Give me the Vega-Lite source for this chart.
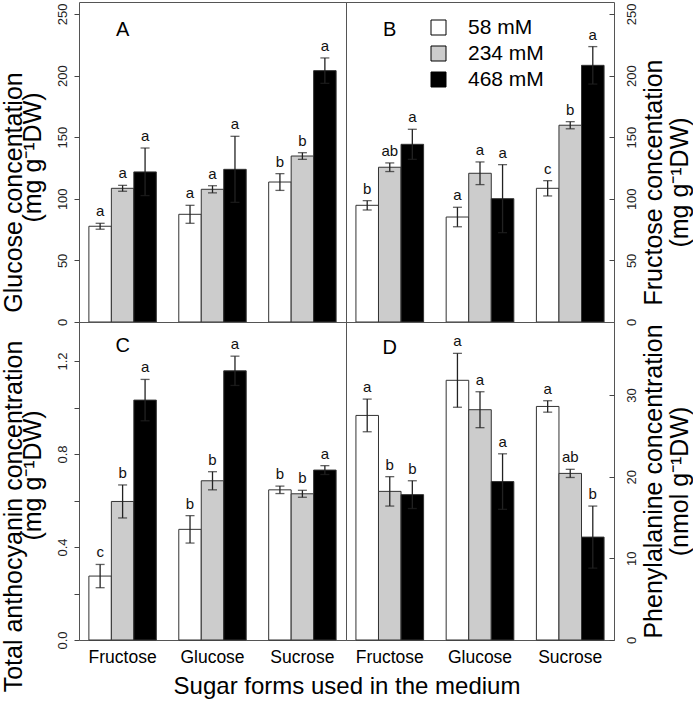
{
  "$schema": "https://vega.github.io/schema/vega-lite/v6.json",
  "padding": {"left": 0, "top": 1, "right": 0, "bottom": 0},
  "autosize": {"type": "pad"},
  "background": "white",
  "bounds": "flush",
  "columns": 2,
  "spacing": 0,
  "datasets": {
    "d": [
      {"p": "A", "sugar": "Fructose", "conc": "58 mM", "mean": 77.7, "lo": 75.3, "hi": 80.1, "lab": "a"},
      {"p": "A", "sugar": "Fructose", "conc": "234 mM", "mean": 108.5, "lo": 106.1, "hi": 110.9, "lab": "a"},
      {"p": "A", "sugar": "Fructose", "conc": "468 mM", "mean": 121.8, "lo": 102.6, "hi": 141.2, "lab": "a"},
      {"p": "A", "sugar": "Glucose", "conc": "58 mM", "mean": 87.4, "lo": 80.1, "hi": 94.7, "lab": "a"},
      {"p": "A", "sugar": "Glucose", "conc": "234 mM", "mean": 107.7, "lo": 104.8, "hi": 110.6, "lab": "a"},
      {"p": "A", "sugar": "Glucose", "conc": "468 mM", "mean": 123.9, "lo": 97.1, "hi": 150.7, "lab": "a"},
      {"p": "A", "sugar": "Sucrose", "conc": "58 mM", "mean": 113.6, "lo": 106.8, "hi": 120.4, "lab": "b"},
      {"p": "A", "sugar": "Sucrose", "conc": "234 mM", "mean": 134.7, "lo": 132.0, "hi": 137.4, "lab": "b"},
      {"p": "A", "sugar": "Sucrose", "conc": "468 mM", "mean": 204.0, "lo": 193.7, "hi": 214.3, "lab": "a"},
      {"p": "B", "sugar": "Fructose", "conc": "58 mM", "mean": 94.7, "lo": 90.9, "hi": 98.5, "lab": "b"},
      {"p": "B", "sugar": "Fructose", "conc": "234 mM", "mean": 125.6, "lo": 122.1, "hi": 129.1, "lab": "ab"},
      {"p": "B", "sugar": "Fructose", "conc": "468 mM", "mean": 144.2, "lo": 132.0, "hi": 156.4, "lab": "a"},
      {"p": "B", "sugar": "Glucose", "conc": "58 mM", "mean": 85.2, "lo": 77.3, "hi": 93.1, "lab": "a"},
      {"p": "B", "sugar": "Glucose", "conc": "234 mM", "mean": 120.7, "lo": 111.5, "hi": 129.9, "lab": "a"},
      {"p": "B", "sugar": "Glucose", "conc": "468 mM", "mean": 100.1, "lo": 72.5, "hi": 127.7, "lab": "a"},
      {"p": "B", "sugar": "Sucrose", "conc": "58 mM", "mean": 108.5, "lo": 102.3, "hi": 114.7, "lab": "c"},
      {"p": "B", "sugar": "Sucrose", "conc": "234 mM", "mean": 159.7, "lo": 156.8, "hi": 162.6, "lab": "b"},
      {"p": "B", "sugar": "Sucrose", "conc": "468 mM", "mean": 208.3, "lo": 193.1, "hi": 223.5, "lab": "a"},
      {"p": "C", "sugar": "Fructose", "conc": "58 mM", "mean": 0.275, "lo": 0.225, "hi": 0.325, "lab": "c"},
      {"p": "C", "sugar": "Fructose", "conc": "234 mM", "mean": 0.596, "lo": 0.525, "hi": 0.667, "lab": "b"},
      {"p": "C", "sugar": "Fructose", "conc": "468 mM", "mean": 1.032, "lo": 0.943, "hi": 1.121, "lab": "a"},
      {"p": "C", "sugar": "Glucose", "conc": "58 mM", "mean": 0.476, "lo": 0.417, "hi": 0.535, "lab": "b"},
      {"p": "C", "sugar": "Glucose", "conc": "234 mM", "mean": 0.685, "lo": 0.646, "hi": 0.724, "lab": "b"},
      {"p": "C", "sugar": "Glucose", "conc": "468 mM", "mean": 1.158, "lo": 1.095, "hi": 1.221, "lab": "a"},
      {"p": "C", "sugar": "Sucrose", "conc": "58 mM", "mean": 0.646, "lo": 0.630, "hi": 0.662, "lab": "b"},
      {"p": "C", "sugar": "Sucrose", "conc": "234 mM", "mean": 0.629, "lo": 0.614, "hi": 0.644, "lab": "b"},
      {"p": "C", "sugar": "Sucrose", "conc": "468 mM", "mean": 0.731, "lo": 0.712, "hi": 0.750, "lab": "a"},
      {"p": "D", "sugar": "Fructose", "conc": "58 mM", "mean": 27.5, "lo": 25.5, "hi": 29.5, "lab": "a"},
      {"p": "D", "sugar": "Fructose", "conc": "234 mM", "mean": 18.2, "lo": 16.4, "hi": 20.0, "lab": "b"},
      {"p": "D", "sugar": "Fructose", "conc": "468 mM", "mean": 17.8, "lo": 16.1, "hi": 19.5, "lab": "b"},
      {"p": "D", "sugar": "Glucose", "conc": "58 mM", "mean": 31.8, "lo": 28.5, "hi": 35.1, "lab": "a"},
      {"p": "D", "sugar": "Glucose", "conc": "234 mM", "mean": 28.2, "lo": 26.0, "hi": 30.4, "lab": "a"},
      {"p": "D", "sugar": "Glucose", "conc": "468 mM", "mean": 19.4, "lo": 16.0, "hi": 22.8, "lab": "a"},
      {"p": "D", "sugar": "Sucrose", "conc": "58 mM", "mean": 28.6, "lo": 27.9, "hi": 29.3, "lab": "a"},
      {"p": "D", "sugar": "Sucrose", "conc": "234 mM", "mean": 20.4, "lo": 19.9, "hi": 20.9, "lab": "ab"},
      {"p": "D", "sugar": "Sucrose", "conc": "468 mM", "mean": 12.6, "lo": 8.8, "hi": 16.4, "lab": "b"}
    ]
  },
  "resolve": {"scale": {"fill": "independent", "xOffset": "independent"}, "legend": {"fill": "independent"}},
  "concat": [
    {
      "width": 267, "height": 320,
      "data": {"name": "d"},
      "transform": [{"filter": "datum.p === 'A'"}],
      "resolve": {"axis": {"y": "independent"}},
      "layer": [
        {"mark": {"type": "bar", "stroke": "#333", "strokeWidth": 1},
         "encoding": {
           "x": {"field": "sugar", "type": "nominal", "scale": {"domain": ["Fructose", "Glucose", "Sucrose"], "paddingInner": 0.25, "paddingOuter": 0.11}, "axis": null},
           "xOffset": {"field": "conc", "type": "nominal", "scale": {"domain": ["58 mM", "234 mM", "468 mM"], "paddingInner": 0, "paddingOuter": 0}},
           "y": {"field": "mean", "type": "quantitative", "scale": {"domain": [0, 259.7], "nice": false, "zero": true},
                 "axis": {"orient": "left", "values": [0, 50, 100, 150, 200, 250], "title": "(mg  g⁻¹DW)", "titleY": 155, "labelAlign": "center", "labelBaseline": "bottom", "titleBaseline": "bottom", "titlePadding": 11}},
           "fill": {"field": "conc", "type": "nominal", "scale": {"domain": ["58 mM", "234 mM", "468 mM"], "range": ["#ffffff", "#cccccc", "#000000"]}, "legend": null}
         }},
        {"mark": {"type": "rule", "color": "#222", "strokeWidth": 1.3},
         "encoding": {"x": {"field": "sugar", "type": "nominal"}, "xOffset": {"field": "conc", "type": "nominal"},
           "y": {"field": "lo", "type": "quantitative", "axis": {"orient": "left", "offset": 53, "labels": false, "ticks": false, "domain": false, "title": "Glucose concentation", "titleY": 190, "titleBaseline": "bottom", "titlePadding": 0}},
           "y2": {"field": "hi"}}},
        {"mark": {"type": "tick", "color": "#222", "size": 9, "thickness": 1.3},
         "encoding": {"x": {"field": "sugar", "type": "nominal"}, "xOffset": {"field": "conc", "type": "nominal"}, "y": {"field": "hi", "type": "quantitative", "axis": null}}},
        {"mark": {"type": "tick", "color": "#222", "size": 9, "thickness": 1.3},
         "encoding": {"x": {"field": "sugar", "type": "nominal"}, "xOffset": {"field": "conc", "type": "nominal"}, "y": {"field": "lo", "type": "quantitative", "axis": null}}},
        {"mark": {"type": "text", "fontSize": 15, "dy": -7, "baseline": "alphabetic", "color": "#111"},
         "encoding": {"x": {"field": "sugar", "type": "nominal"}, "xOffset": {"field": "conc", "type": "nominal"}, "y": {"field": "hi", "type": "quantitative", "axis": null}, "text": {"field": "lab"}}},
        {"data": {"values": [{"t": "A"}]},
         "mark": {"type": "text", "fontSize": 20, "baseline": "middle", "align": "center", "color": "#000"},
         "encoding": {"x": {"datum": "Fructose"}, "y": {"datum": 237, "type": "quantitative", "axis": null}, "text": {"field": "t"}}}
      ]
    },
    {
      "width": 268, "height": 320,
      "data": {"name": "d"},
      "transform": [{"filter": "datum.p === 'B'"}],
      "resolve": {"axis": {"y": "independent"}},
      "layer": [
        {"mark": {"type": "bar", "stroke": "#333", "strokeWidth": 1},
         "encoding": {
           "x": {"field": "sugar", "type": "nominal", "scale": {"domain": ["Fructose", "Glucose", "Sucrose"], "paddingInner": 0.25, "paddingOuter": 0.11}, "axis": null},
           "xOffset": {"field": "conc", "type": "nominal", "scale": {"domain": ["58 mM", "234 mM", "468 mM"], "paddingInner": 0, "paddingOuter": 0}},
           "y": {"field": "mean", "type": "quantitative", "scale": {"domain": [0, 259.7], "nice": false, "zero": true},
                 "axis": {"orient": "right", "values": [0, 50, 100, 150, 200, 250], "title": "Fructose concentation", "titleY": 180, "labelAlign": "center", "labelBaseline": "top", "titleBaseline": "top", "tickSize": -5, "labelPadding": 16, "titlePadding": 3}},
           "fill": {"field": "conc", "type": "nominal", "scale": {"domain": ["58 mM", "234 mM", "468 mM"], "range": ["#ffffff", "#cccccc", "#000000"]},
                    "legend": {"orient": "none", "legendX": 82, "legendY": 15, "title": null, "symbolType": "square", "symbolSize": 225, "symbolStrokeColor": "#000", "symbolStrokeWidth": 1, "labelFontSize": 21, "labelOffset": 19, "rowPadding": 4, "padding": 0, "labelColor": "#000", "labelFont": "Liberation Sans"}}
         }},
        {"mark": {"type": "rule", "color": "#222", "strokeWidth": 1.3},
         "encoding": {"x": {"field": "sugar", "type": "nominal"}, "xOffset": {"field": "conc", "type": "nominal"},
           "y": {"field": "lo", "type": "quantitative", "axis": {"orient": "right", "offset": 53, "labels": false, "ticks": false, "domain": false, "title": "(mg  g⁻¹DW)", "titleY": 180, "titleBaseline": "top", "titlePadding": 0}},
           "y2": {"field": "hi"}}},
        {"mark": {"type": "tick", "color": "#222", "size": 9, "thickness": 1.3},
         "encoding": {"x": {"field": "sugar", "type": "nominal"}, "xOffset": {"field": "conc", "type": "nominal"}, "y": {"field": "hi", "type": "quantitative", "axis": null}}},
        {"mark": {"type": "tick", "color": "#222", "size": 9, "thickness": 1.3},
         "encoding": {"x": {"field": "sugar", "type": "nominal"}, "xOffset": {"field": "conc", "type": "nominal"}, "y": {"field": "lo", "type": "quantitative", "axis": null}}},
        {"mark": {"type": "text", "fontSize": 15, "dy": -7, "baseline": "alphabetic", "color": "#111"},
         "encoding": {"x": {"field": "sugar", "type": "nominal"}, "xOffset": {"field": "conc", "type": "nominal"}, "y": {"field": "hi", "type": "quantitative", "axis": null}, "text": {"field": "lab"}}},
        {"data": {"values": [{"t": "B"}]},
         "mark": {"type": "text", "fontSize": 20, "baseline": "middle", "align": "center", "color": "#000"},
         "encoding": {"x": {"datum": "Fructose"}, "y": {"datum": 237, "type": "quantitative", "axis": null}, "text": {"field": "t"}}}
      ]
    },
    {
      "width": 267, "height": 318,
      "data": {"name": "d"},
      "transform": [{"filter": "datum.p === 'C'"}],
      "resolve": {"axis": {"y": "independent"}},
      "layer": [
        {"mark": {"type": "bar", "stroke": "#333", "strokeWidth": 1},
         "encoding": {
           "x": {"field": "sugar", "type": "nominal", "scale": {"domain": ["Fructose", "Glucose", "Sucrose"], "paddingInner": 0.25, "paddingOuter": 0.11},
                 "axis": {"orient": "bottom", "ticks": false, "labelAngle": 0, "labelFontSize": 17.5, "labelPadding": 8, "labelColor": "#000",
                          "title": "Sugar forms used in the medium", "titleFontSize": 24, "titleX": 267.5, "titleY": 34, "titleAlign": "center", "titleBaseline": "top", "titleAnchor": null}},
           "xOffset": {"field": "conc", "type": "nominal", "scale": {"domain": ["58 mM", "234 mM", "468 mM"], "paddingInner": 0, "paddingOuter": 0}},
           "y": {"field": "mean", "type": "quantitative", "scale": {"domain": [0, 1.368], "nice": false, "zero": true},
                 "axis": {"orient": "left", "values": [0, 0.2, 0.4, 0.6, 0.8, 1.0, 1.2], "labelExpr": "round(datum.value*10) % 4 === 0 ? format(datum.value, '.1f') : ''", "title": "(mg  g⁻¹DW)", "titleY": 153, "labelAlign": "center", "labelBaseline": "bottom", "titleBaseline": "bottom", "titlePadding": 11}},
           "fill": {"field": "conc", "type": "nominal", "scale": {"domain": ["58 mM", "234 mM", "468 mM"], "range": ["#ffffff", "#cccccc", "#000000"]}, "legend": null}
         }},
        {"mark": {"type": "rule", "color": "#222", "strokeWidth": 1.3},
         "encoding": {"x": {"field": "sugar", "type": "nominal"}, "xOffset": {"field": "conc", "type": "nominal"},
           "y": {"field": "lo", "type": "quantitative", "axis": {"orient": "left", "offset": 53, "labels": false, "ticks": false, "domain": false, "title": "Total anthocyanin concentration", "titleY": 194, "titleBaseline": "bottom", "titlePadding": 0}},
           "y2": {"field": "hi"}}},
        {"mark": {"type": "tick", "color": "#222", "size": 9, "thickness": 1.3},
         "encoding": {"x": {"field": "sugar", "type": "nominal"}, "xOffset": {"field": "conc", "type": "nominal"}, "y": {"field": "hi", "type": "quantitative", "axis": null}}},
        {"mark": {"type": "tick", "color": "#222", "size": 9, "thickness": 1.3},
         "encoding": {"x": {"field": "sugar", "type": "nominal"}, "xOffset": {"field": "conc", "type": "nominal"}, "y": {"field": "lo", "type": "quantitative", "axis": null}}},
        {"mark": {"type": "text", "fontSize": 15, "dy": -7, "baseline": "alphabetic", "color": "#111"},
         "encoding": {"x": {"field": "sugar", "type": "nominal"}, "xOffset": {"field": "conc", "type": "nominal"}, "y": {"field": "hi", "type": "quantitative", "axis": null}, "text": {"field": "lab"}}},
        {"data": {"values": [{"t": "C"}]},
         "mark": {"type": "text", "fontSize": 20, "baseline": "middle", "align": "center", "color": "#000"},
         "encoding": {"x": {"datum": "Fructose"}, "y": {"datum": 1.265, "type": "quantitative", "axis": null}, "text": {"field": "t"}}}
      ]
    },
    {
      "width": 268, "height": 318,
      "data": {"name": "d"},
      "transform": [{"filter": "datum.p === 'D'"}],
      "resolve": {"axis": {"y": "independent"}},
      "layer": [
        {"mark": {"type": "bar", "stroke": "#333", "strokeWidth": 1},
         "encoding": {
           "x": {"field": "sugar", "type": "nominal", "scale": {"domain": ["Fructose", "Glucose", "Sucrose"], "paddingInner": 0.25, "paddingOuter": 0.11},
                 "axis": {"orient": "bottom", "ticks": false, "title": null, "labelAngle": 0, "labelFontSize": 17.5, "labelPadding": 8, "labelColor": "#000"}},
           "xOffset": {"field": "conc", "type": "nominal", "scale": {"domain": ["58 mM", "234 mM", "468 mM"], "paddingInner": 0, "paddingOuter": 0}},
           "y": {"field": "mean", "type": "quantitative", "scale": {"domain": [0, 38.94], "nice": false, "zero": true},
                 "axis": {"orient": "right", "values": [0, 10, 20, 30], "title": "Phenylalanine concentration", "titleY": 159, "labelAlign": "center", "labelBaseline": "top", "titleBaseline": "top", "tickSize": -5, "labelPadding": 16, "titlePadding": 3}},
           "fill": {"field": "conc", "type": "nominal", "scale": {"domain": ["58 mM", "234 mM", "468 mM"], "range": ["#ffffff", "#cccccc", "#000000"]}, "legend": null}
         }},
        {"mark": {"type": "rule", "color": "#222", "strokeWidth": 1.3},
         "encoding": {"x": {"field": "sugar", "type": "nominal"}, "xOffset": {"field": "conc", "type": "nominal"},
           "y": {"field": "lo", "type": "quantitative", "axis": {"orient": "right", "offset": 53, "labels": false, "ticks": false, "domain": false, "title": "(nmol  g⁻¹DW)", "titleY": 159, "titleBaseline": "top", "titlePadding": 0}},
           "y2": {"field": "hi"}}},
        {"mark": {"type": "tick", "color": "#222", "size": 9, "thickness": 1.3},
         "encoding": {"x": {"field": "sugar", "type": "nominal"}, "xOffset": {"field": "conc", "type": "nominal"}, "y": {"field": "hi", "type": "quantitative", "axis": null}}},
        {"mark": {"type": "tick", "color": "#222", "size": 9, "thickness": 1.3},
         "encoding": {"x": {"field": "sugar", "type": "nominal"}, "xOffset": {"field": "conc", "type": "nominal"}, "y": {"field": "lo", "type": "quantitative", "axis": null}}},
        {"mark": {"type": "text", "fontSize": 15, "dy": -7, "baseline": "alphabetic", "color": "#111"},
         "encoding": {"x": {"field": "sugar", "type": "nominal"}, "xOffset": {"field": "conc", "type": "nominal"}, "y": {"field": "hi", "type": "quantitative", "axis": null}, "text": {"field": "lab"}}},
        {"data": {"values": [{"t": "D"}]},
         "mark": {"type": "text", "fontSize": 20, "baseline": "middle", "align": "center", "color": "#000"},
         "encoding": {"x": {"datum": "Fructose"}, "y": {"datum": 35.8, "type": "quantitative", "axis": null}, "text": {"field": "t"}}}
      ]
    }
  ],
  "config": {
    "font": "Liberation Sans",
    "view": {"stroke": "#555", "strokeWidth": 1},
    "axis": {"labelFont": "Liberation Sans", "titleFont": "Liberation Sans", "labelColor": "#222", "titleColor": "#000", "tickColor": "#444", "domain": false, "grid": false, "titleFontWeight": "normal"},
    "axisY": {"labelAngle": -90, "labelFontSize": 13, "tickSize": 5, "labelPadding": 5, "titleFontSize": 25, "titleAngle": -90}
  }
}
